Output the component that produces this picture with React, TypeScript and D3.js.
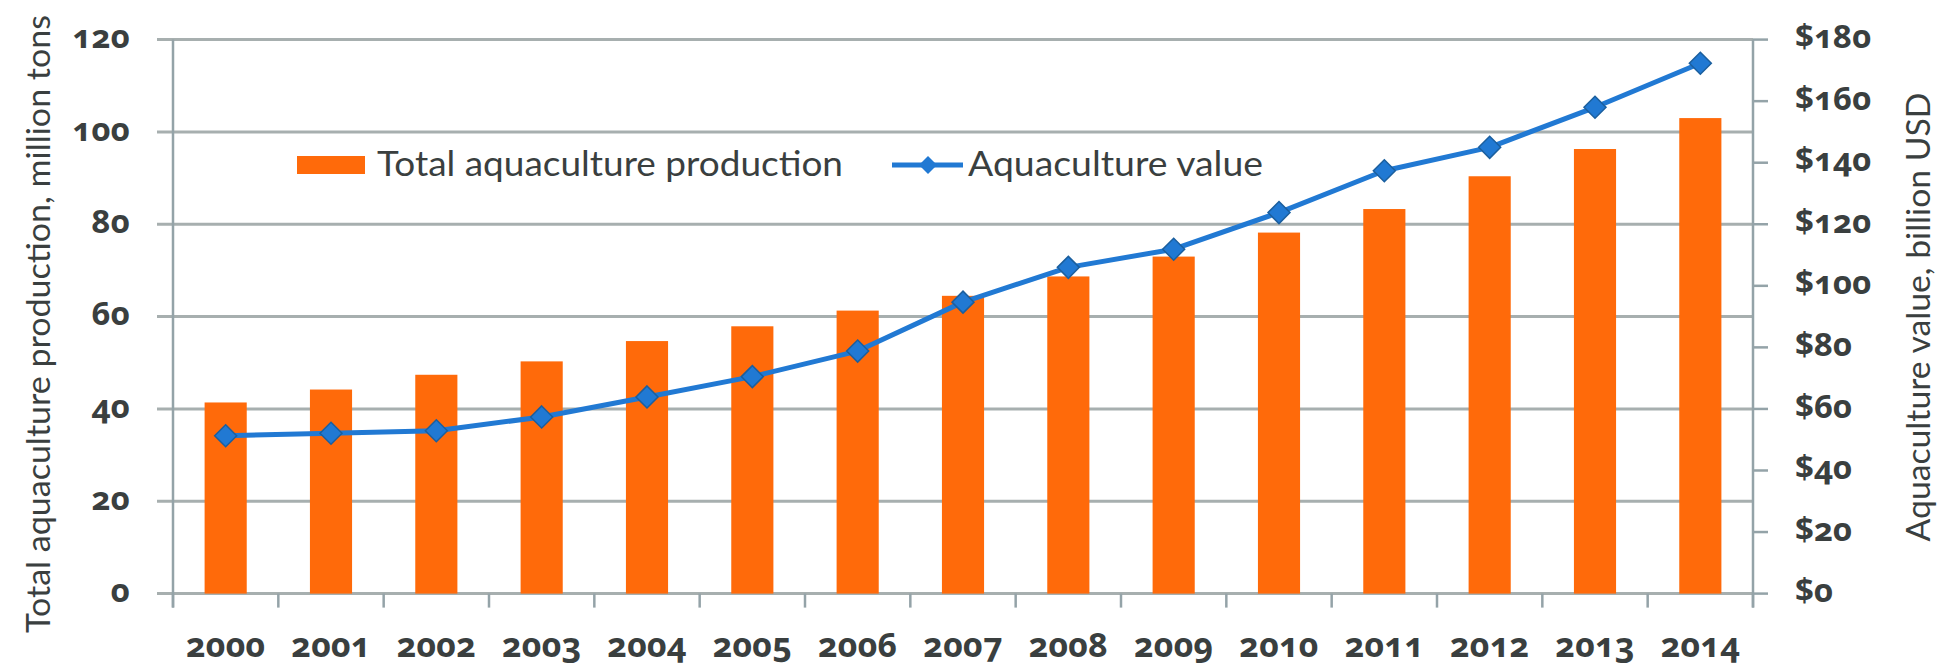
import React from "react";
import * as d3 from "d3";

const years = ["2000","2001","2002","2003","2004","2005","2006","2007","2008","2009","2010","2011","2012","2013","2014"];
const production = [41.4, 44.2, 47.4, 50.3, 54.7, 57.9, 61.3, 64.5, 68.7, 73.0, 78.2, 83.3, 90.4, 96.3, 103.0];
const value = [51.3, 52.1, 52.9, 57.4, 63.9, 70.5, 78.8, 94.7, 106.0, 111.9, 123.8, 137.4, 145.0, 158.0, 172.3];
const leftTicks = [0, 20, 40, 60, 80, 100, 120];
const rightTicks = [0, 20, 40, 60, 80, 100, 120, 140, 160, 180];
const legendLabels = ["Total aquaculture production", "Aquaculture value"];
const leftTitle = "Total aquaculture production,  million tons";
const rightTitle = "Aquaculture value, billion USD";

const W = 1939, H = 669;
const X0 = 173, X1 = 1753, YT = 39.6, YB = 593.6;
const ORANGE = "#FF6A0A";
const BLUE = "#2179D3";
const TEXT = "#3a3f3f";
const GRID = "#a7afaf";
const AXIS = "#94a3a8";
const NUMFONT = "'Noto Sans', 'Open Sans', sans-serif";
const TXTFONT = "Lato, 'Open Sans', sans-serif";
const numStyle = { fontVariantNumeric: "oldstyle-nums", fontFeatureSettings: "'onum' 1" } as React.CSSProperties;

export default function App() {
  const x = d3.scaleBand<string>().domain(years).range([X0, X1]).paddingInner(0.6).paddingOuter(0.3);
  const yL = d3.scaleLinear().domain([0, 120]).range([YB, YT]);
  const yR = d3.scaleLinear().domain([0, 180]).range([YB, YT]);
  const step = x.step();
  const bw = x.bandwidth();
  const boundaries = d3.range(years.length + 1).map((i) => X0 + i * step);
  const cx = (y: string) => (x(y) as number) + bw / 2;
  const line = d3.line<number>().x((_, i) => cx(years[i])).y((v) => yR(v));
  const diamond = (r: number) => `M0,${-r}L${r},0L0,${r}L${-r},0Z`;

  return (
    <svg width={W} height={H} style={{ position: "absolute", left: 0, top: 0, background: "#fff" }}>
      <rect x={0} y={0} width={W} height={H} fill="#fff" />
      {leftTicks.map((t) => (
        <line key={"g" + t} x1={X0 - 16} x2={X1} y1={yL(t)} y2={yL(t)} stroke={GRID} strokeWidth={3} />
      ))}
      <line x1={X0} x2={X0} y1={YT} y2={YB + 14} stroke={AXIS} strokeWidth={2.5} />
      <line x1={X1} x2={X1} y1={YT} y2={YB + 14} stroke={AXIS} strokeWidth={2.5} />
      {rightTicks.map((t) => (
        <line key={"rt" + t} x1={X1} x2={X1 + 15} y1={yR(t)} y2={yR(t)} stroke={AXIS} strokeWidth={2.5} />
      ))}
      {boundaries.map((b, i) => (
        <line key={"xt" + i} x1={b} x2={b} y1={YB} y2={YB + 14} stroke={AXIS} strokeWidth={2.5} />
      ))}
      {years.map((yr, i) => (
        <rect key={"b" + yr} x={x(yr)} y={yL(production[i])} width={bw} height={YB - yL(production[i])} fill={ORANGE} />
      ))}
      <path d={line(value) || ""} fill="none" stroke={BLUE} strokeWidth={5} strokeLinejoin="round" />
      {value.map((v, i) => (
        <path key={"m" + i} d={diamond(11)} transform={`translate(${cx(years[i])},${yR(v)})`} fill={BLUE} stroke="#1b5f9e" strokeWidth={1.5} />
      ))}
      {leftTicks.map((t) => (
        <text key={"lt" + t} x={130} y={yL(t)} dy="0.26em" textAnchor="end" fontFamily={NUMFONT} fontWeight={700} fontSize={33} fill={TEXT} style={numStyle}>
          {t}
        </text>
      ))}
      {rightTicks.map((t) => (
        <text key={"rl" + t} x={1795} y={yR(t)} dy="0.26em" textAnchor="start" fontFamily={NUMFONT} fontWeight={700} fontSize={33} fill={TEXT} style={numStyle}>
          {"$" + t}
        </text>
      ))}
      {years.map((yr) => (
        <text key={"xl" + yr} x={cx(yr)} y={657} textAnchor="middle" fontFamily={NUMFONT} fontWeight={700} fontSize={34} fill={TEXT} style={numStyle}>
          {yr}
        </text>
      ))}
      <rect x={297} y={156} width={68} height={18} fill={ORANGE} />
      <text x={377} y={176} fontFamily={TXTFONT} fontSize={34} fill={TEXT} textLength={466} lengthAdjust="spacingAndGlyphs">
        {legendLabels[0]}
      </text>
      <line x1={892} x2={963} y1={165} y2={165} stroke={BLUE} strokeWidth={5} />
      <path d={diamond(9)} transform="translate(928,165)" fill={BLUE} />
      <text x={968} y={176} fontFamily={TXTFONT} fontSize={34} fill={TEXT} textLength={295} lengthAdjust="spacingAndGlyphs">
        {legendLabels[1]}
      </text>
      <text transform="translate(50,324) rotate(-90)" textAnchor="middle" fontFamily={TXTFONT} fontSize={33} fill={TEXT} textLength={618} lengthAdjust="spacingAndGlyphs">
        {leftTitle}
      </text>
      <text transform="translate(1930,317) rotate(-90)" textAnchor="middle" fontFamily={TXTFONT} fontSize={33} fill={TEXT} textLength={449} lengthAdjust="spacingAndGlyphs">
        {rightTitle}
      </text>
    </svg>
  );
}
